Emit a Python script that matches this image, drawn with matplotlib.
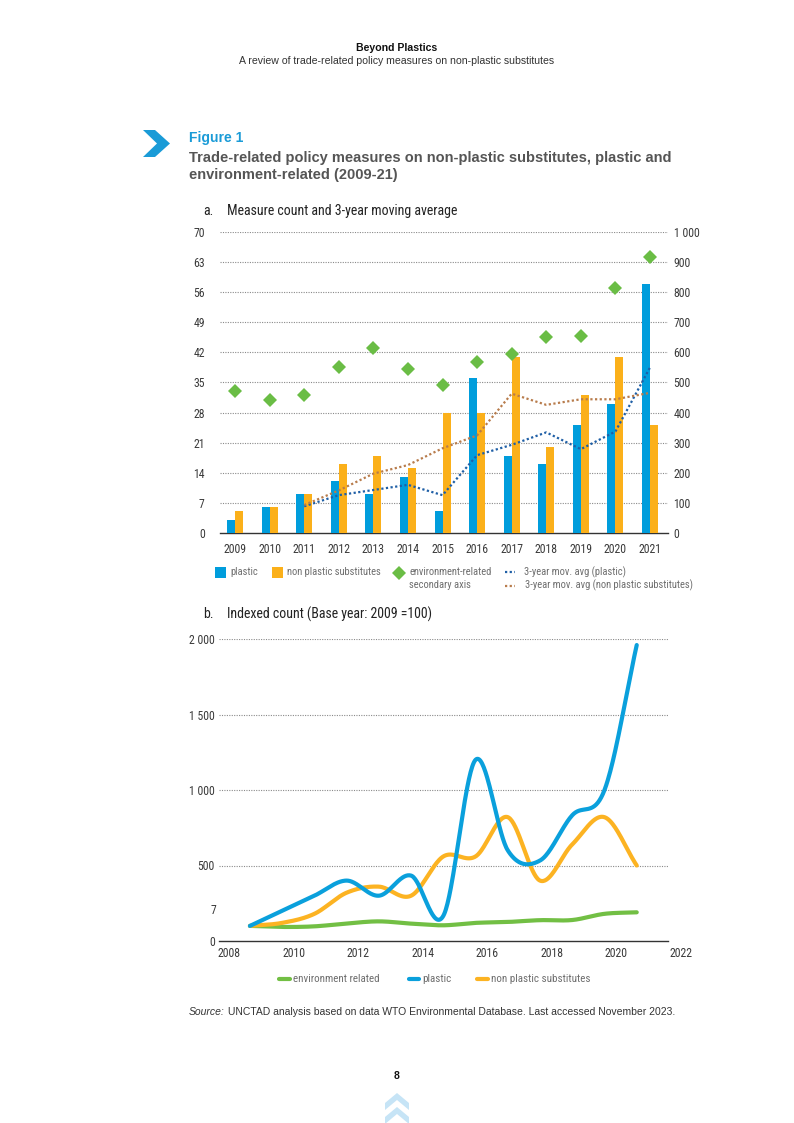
import numpy as np
import matplotlib
matplotlib.use("Agg")
import matplotlib.pyplot as plt
from matplotlib import font_manager
from matplotlib.font_manager import FontProperties
from matplotlib.patches import Polygon, Rectangle
from matplotlib.lines import Line2D

# ---------------- data ----------------
years = [2009, 2010, 2011, 2012, 2013, 2014, 2015, 2016, 2017, 2018, 2019, 2020, 2021]
plastic = [3, 6, 9, 12, 9, 13, 5, 36, 18, 16, 25, 30, 58]
non_plastic = [5, 6, 9, 16, 18, 15, 28, 28, 41, 20, 32, 41, 25]
environment = [473, 442, 460, 551, 613, 545, 491, 567, 594, 652, 656, 813, 918]
ma_years = [2011, 2012, 2013, 2014, 2015, 2016, 2017, 2018, 2019, 2020, 2021]
ma_plastic = [6.2, 8.8, 10.0, 11.2, 8.8, 18.1, 20.5, 23.4, 19.5, 23.6, 38.5]
ma_non_plastic = [6.5, 9.9, 13.8, 15.8, 19.7, 22.7, 32.4, 29.8, 31.1, 31.1, 32.6]

idx_environment = [100, 93, 97, 116, 130, 115, 104, 120, 126, 138, 139, 180, 190]
idx_plastic = [100, 200, 300, 400, 300, 433, 167, 1200, 600, 533, 833, 1000, 1960]
idx_non_plastic = [100, 120, 180, 320, 360, 300, 560, 560, 820, 400, 640, 820, 500]

left_ticks = [0, 7, 14, 21, 28, 35, 42, 49, 56, 63, 70]
right_ticks = [0, 100, 200, 300, 400, 500, 600, 700, 800, 900, 1000]
right_labels = ["0", "100", "200", "300", "400", "500", "600", "700", "800", "900", "1 000"]
b_ticks = [0, 500, 1000, 1500, 2000]
b_labels = ["0", "500", "1 000", "1 500", "2 000"]
b_xlabels = [2008, 2010, 2012, 2014, 2016, 2018, 2020, 2022]

# ---------------- fonts ----------------
W, H = 794, 1123
REG = "Liberation Sans"
plt.rcParams['font.family'] = [REG, 'DejaVu Sans']


def find_condensed():
    pref = ["Liberation Sans Narrow", "Roboto Condensed", "Open Sans Condensed",
            "Noto Sans Condensed", "DejaVu Sans Condensed", "Roboto", "Open Sans",
            "Noto Sans", "DejaVu Sans", "Lato", "Inter"]
    cands = []
    for f in font_manager.fontManager.ttflist:
        st = str(f.stretch).lower()
        nm = f.name
        fn = f.fname.lower()
        cond = ("condensed" in st or "narrow" in nm.lower() or "condensed" in nm.lower()
                or "condensed" in fn or "narrow" in fn)
        if isinstance(f.stretch, (int, float)) and f.stretch < 500:
            cond = True
        if not cond or "extra" in st or "ultra" in st or "extra" in fn or "ultra" in fn:
            continue
        if f.style != "normal":
            continue
        w = f.weight if isinstance(f.weight, (int, float)) else {"normal": 400, "regular": 400, "book": 400}.get(str(f.weight).lower(), 700)
        if w != 400:
            continue
        rank = len(pref)
        for i, p in enumerate(pref):
            if nm.startswith(p):
                rank = i
                break
        semi = 1 if "semi" in st or "semi" in fn else 0
        cands.append((rank, semi, f.fname))
    if cands:
        cands.sort()
        return cands[0][2]
    return None


_cpath = find_condensed()


def NF(size):
    if _cpath:
        return FontProperties(fname=_cpath, size=size)
    return FontProperties(family=REG, size=size * 0.88)


C_BLUE = "#009ddc"
C_ORANGE = "#fbb01a"
C_GREEN = "#6abd45"
C_LBLUE = "#0aa0dc"
C_LORANGE = "#fcb322"
C_LGREEN = "#72bf44"
C_MA_BLUE = "#1f5fa6"
C_MA_BROWN = "#b87c4c"
C_TICK = "#3a3a3a"
C_LEG = "#6e6e6e"
C_GRID = "#8a8a8a"

fig = plt.figure(figsize=(W / 100, H / 100), dpi=100)


def fx(x):
    return x / W


def fy(y):
    return 1 - y / H


def ftext(x, y, s, **kw):
    return fig.text(fx(x), fy(y), s, **kw)


def axes_px(l, t, r, b):
    return fig.add_axes([fx(l), fy(b), (r - l) / W, (b - t) / H])


def catmull(xs, ys, n=40):
    xs = np.asarray(xs, float)
    ys = np.asarray(ys, float)
    P = np.column_stack([xs, ys])
    P = np.vstack([2 * P[0] - P[1], P, 2 * P[-1] - P[-2]])
    out = []
    t = np.linspace(0, 1, n)[:, None]
    for i in range(1, len(P) - 2):
        p0, p1, p2, p3 = P[i - 1], P[i], P[i + 1], P[i + 2]
        seg = 0.5 * ((2 * p1) + (-p0 + p2) * t + (2 * p0 - 5 * p1 + 4 * p2 - p3) * t ** 2
                     + (-p0 + 3 * p1 - 3 * p2 + p3) * t ** 3)
        out.append(seg if i == 1 else seg[1:])
    out = np.vstack(out)
    return out[:, 0], out[:, 1]


# ---------------- header ----------------
ftext(397, 48, "Beyond Plastics", ha="center", va="center", fontsize=7.6,
      fontweight="bold", color="#111111", family=REG)
ftext(397, 61, "A review of trade-related policy measures on non-plastic substitutes",
      ha="center", va="center", fontsize=7.6, color="#333333", family=REG)

chev = [(143, 130), (155, 130), (170, 143.5), (155, 157), (143, 157), (157, 143.5)]
fig.add_artist(Polygon([(fx(x), fy(y)) for x, y in chev], closed=True,
                       transform=fig.transFigure, facecolor="#1a9bd7", edgecolor="none"))
ftext(189, 138, "Figure 1", ha="left", va="center", fontsize=10, fontweight="bold",
      color="#1a9bd7", family=REG)
ftext(189, 158, "Trade-related policy measures on non-plastic substitutes, plastic and",
      ha="left", va="center", fontsize=10.5, fontweight="bold", color="#555555", family=REG)
ftext(189, 175, "environment-related (2009-21)",
      ha="left", va="center", fontsize=10.5, fontweight="bold", color="#555555", family=REG)

HF = 10.0
ftext(203, 211, "a.", ha="left", va="center", fontproperties=NF(HF), color="#222222")
ftext(227, 211, "Measure count and 3-year moving average", ha="left", va="center",
      fontproperties=NF(HF), color="#222222")
ftext(203, 614, "b.", ha="left", va="center", fontproperties=NF(HF), color="#222222")
ftext(227, 614, "Indexed count (Base year: 2009 =100)", ha="left", va="center",
      fontproperties=NF(HF), color="#222222")

# ---------------- chart a ----------------
ax = axes_px(220, 232, 668, 533)
xpos = np.arange(len(years))
bw = 0.231
ax.bar(xpos - bw / 2, plastic, width=bw, color=C_BLUE, zorder=3)
ax.bar(xpos + bw / 2, non_plastic, width=bw, color=C_ORANGE, zorder=3)
ax.set_xlim(-0.434, 12.52)
ax.set_ylim(0, 70)
ax.set_yticks(left_ticks)
ax.set_yticklabels([str(v) for v in left_ticks])
ax.set_xticks(xpos)
ax.set_xticklabels([str(y) for y in years])
for v in left_ticks[1:]:
    ax.axhline(v, color=C_GRID, lw=0.8, ls=(0, (1, 1.2)), zorder=1)
for s in ["top", "right", "left"]:
    ax.spines[s].set_visible(False)
ax.spines["bottom"].set_color("#333333")
ax.spines["bottom"].set_linewidth(1.0)
ax.tick_params(axis="both", length=0, labelcolor=C_TICK)
ax.tick_params(axis="x", pad=7)
ax.tick_params(axis="y", pad=11)
for lab in ax.get_xticklabels() + ax.get_yticklabels():
    lab.set_fontproperties(NF(8.5))

ma_x = [years.index(y) for y in ma_years]
ax.plot(ma_x, ma_plastic, color=C_MA_BLUE, lw=1.6, ls=(0, (1, 1.1)), zorder=5)
ax.plot(ma_x, ma_non_plastic, color=C_MA_BROWN, lw=1.6, ls=(0, (1, 1.1)), zorder=5)

ax2 = ax.twinx()
ax2.set_ylim(0, 1000)
ax2.set_yticks(right_ticks)
ax2.set_yticklabels(right_labels)
for s in ["top", "right", "left", "bottom"]:
    ax2.spines[s].set_visible(False)
ax2.tick_params(axis="y", length=0, labelcolor=C_TICK, pad=4)
for lab in ax2.get_yticklabels():
    lab.set_fontproperties(NF(8.5))
ax2.plot(xpos, environment, ls="none", marker="D", markersize=6.8, color=C_GREEN,
         markeredgewidth=0, zorder=6)

# legend a
LF = 7.6
fig.add_artist(Rectangle((fx(215), fy(578)), 11 / W, 11 / H, transform=fig.transFigure,
                         facecolor=C_BLUE, edgecolor="none"))
ftext(230, 572, "plastic", ha="left", va="center", fontproperties=NF(LF), color=C_LEG)
fig.add_artist(Rectangle((fx(272), fy(578)), 11 / W, 11 / H, transform=fig.transFigure,
                         facecolor=C_ORANGE, edgecolor="none"))
ftext(287, 572, "non plastic substitutes", ha="left", va="center", fontproperties=NF(LF),
      color=C_LEG)
fig.add_artist(Line2D([fx(398.5)], [fy(572.5)], marker="D", markersize=6.8, color=C_GREEN,
                      markeredgewidth=0, transform=fig.transFigure))
ftext(409, 572, "environment-related", ha="left", va="center", fontproperties=NF(LF),
      color=C_LEG)
ftext(409, 585, "secondary axis", ha="left", va="center", fontproperties=NF(LF),
      color=C_LEG)
fig.add_artist(Line2D([fx(505), fx(515)], [fy(572), fy(572)], color=C_MA_BLUE, lw=1.6,
                      ls=(0, (1, 1.1)), transform=fig.transFigure))
ftext(524, 572, "3-year mov. avg (plastic)", ha="left", va="center", fontproperties=NF(LF),
      color=C_LEG)
fig.add_artist(Line2D([fx(505), fx(515)], [fy(586), fy(586)], color=C_MA_BROWN, lw=1.6,
                      ls=(0, (1, 1.1)), transform=fig.transFigure))
ftext(525, 585, "3-year mov. avg (non plastic substitutes)", ha="left", va="center",
      fontproperties=NF(LF), color=C_LEG)

# ---------------- chart b ----------------
bx = axes_px(219, 639, 668, 941)
bx.set_xlim(2008.04, 2021.97)
bx.set_ylim(0, 2000)
for series, col in [(idx_environment, C_LGREEN), (idx_non_plastic, C_LORANGE),
                    (idx_plastic, C_LBLUE)]:
    sx, sy = catmull(years, series)
    bx.plot(sx, sy, color=col, lw=3.0, solid_capstyle="round", zorder=4)
bx.set_yticks(b_ticks)
bx.set_yticklabels(b_labels)
bx.set_xticks([])
for v in b_ticks[1:]:
    bx.axhline(v, color=C_GRID, lw=0.8, ls=(0, (1, 1.2)), zorder=1)
for s in ["top", "right", "left"]:
    bx.spines[s].set_visible(False)
bx.spines["bottom"].set_color("#333333")
bx.spines["bottom"].set_linewidth(1.0)
bx.tick_params(axis="y", length=0, labelcolor=C_TICK, pad=3)
for lab in bx.get_yticklabels():
    lab.set_fontproperties(NF(8.5))
bx.text(-3 / 449, 200 / 2000, "7", transform=bx.transAxes, ha="right", va="center",
        fontproperties=NF(8.5), color=C_TICK)
for yr in b_xlabels:
    bx.text(yr + 0.36, -0.04, str(yr), transform=bx.get_xaxis_transform(), ha="center",
            va="center", fontproperties=NF(8.5), color=C_TICK, clip_on=False)

# legend b
for x0, x1, col, tx, label in [(277, 292, C_LGREEN, 293, "environment related"),
                               (407, 421, C_LBLUE, 422, "plastic"),
                               (475, 490, C_LORANGE, 491, "non plastic substitutes")]:
    fig.add_artist(Line2D([fx(x0 + 2), fx(x1 - 2)], [fy(979), fy(979)], color=col, lw=3,
                          solid_capstyle="round", transform=fig.transFigure))
    ftext(tx, 979, label, ha="left", va="center", fontproperties=NF(7.9), color=C_LEG)

# ---------------- footer ----------------
src = ftext(189, 1012, "Source:", ha="left", va="center", fontsize=7.45, style="italic",
            color="#333333", family=REG)
fig.canvas.draw()
bb = src.get_window_extent(renderer=fig.canvas.get_renderer())
ftext(bb.x1 + 3, 1012, "UNCTAD analysis based on data WTO Environmental Database. Last accessed November 2023.",
      ha="left", va="center", fontsize=7.45, color="#333333", family=REG)
ftext(397, 1076, "8", ha="center", va="center", fontsize=7.5, fontweight="bold",
      color="#111111", family=REG)
for top in [1093, 1107]:
    pts = [(397, top), (409, top + 10), (409, top + 17), (397, top + 7), (385, top + 17), (385, top + 10)]
    fig.add_artist(Polygon([(fx(x), fy(y)) for x, y in pts], closed=True,
                           transform=fig.transFigure, facecolor="#c6e4f6", edgecolor="none"))

fig.savefig("out.png", dpi=100)
